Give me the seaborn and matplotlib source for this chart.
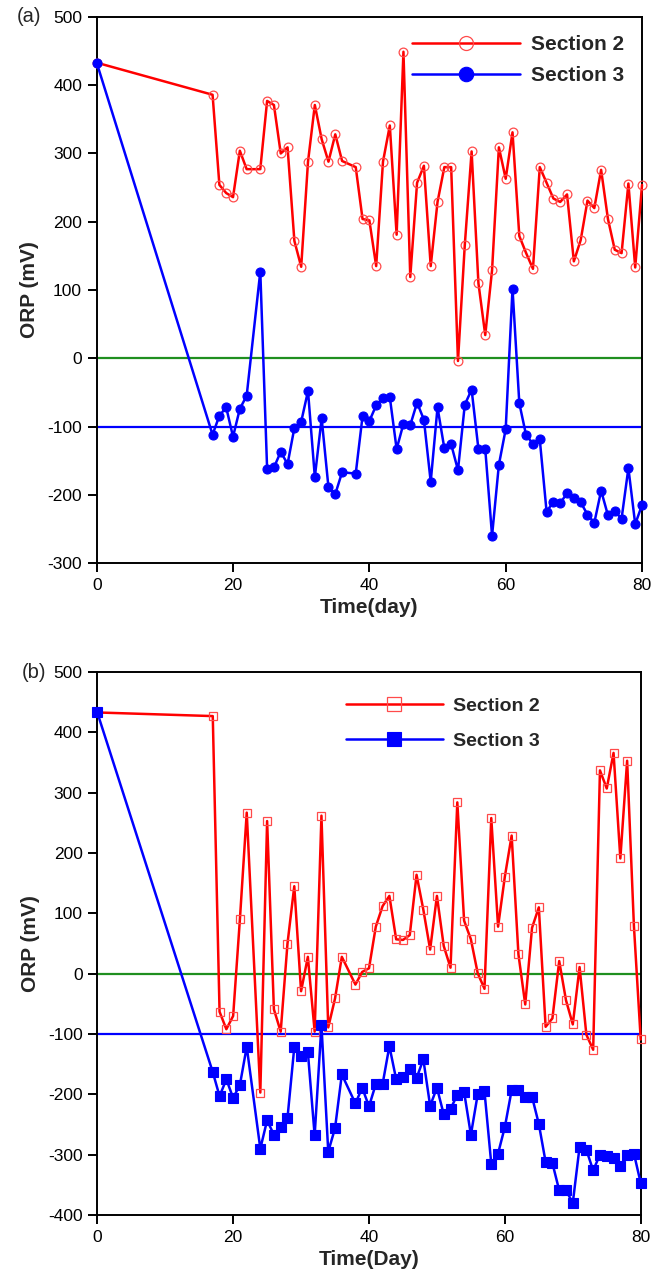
import numpy as np
import pandas as pd
import matplotlib
matplotlib.use("Agg")
import matplotlib.pyplot as plt
import seaborn as sns

# sampling days (day 23 and 37 not measured)
days = [0, 17, 18, 19, 20, 21, 22,
        24, 25, 26, 27, 28, 29, 30, 31, 32, 33, 34, 35, 36,
        38, 39, 40, 41, 42, 43, 44, 45, 46, 47,
        48, 49, 50, 51, 52, 53, 54, 55, 56, 57,
        58, 59, 60, 61, 62, 63, 64, 65, 66, 67,
        68, 69, 70, 71, 72, 73, 74, 75, 76, 77,
        78, 79, 80]

# panel (a)
a_sec2 = [433, 386, 254, 242, 236, 304, 277,
          277, 377, 371, 300, 309, 172, 134, 288, 371, 321, 288, 328, 289,
          280, 204, 202, 135, 288, 341, 181, 449, 119, 257,
          282, 135, 229, 280, 280, -4, 166, 303, 110, 34,
          129, 309, 263, 331, 179, 154, 131, 280, 257, 234,
          229, 240, 142, 173, 231, 220, 276, 204, 159, 154,
          256, 133, 254]
a_sec3 = [433, -112, -84, -72, -115, -74, -55,
          127, -162, -160, -137, -155, -102, -93, -48, -174, -88, -189, -199, -167,
          -169, -85, -92, -69, -58, -57, -133, -96, -98, -65,
          -90, -181, -72, -132, -126, -164, -68, -46, -133, -133,
          -260, -156, -104, 102, -66, -113, -125, -119, -225, -210,
          -212, -198, -205, -211, -229, -241, -194, -230, -224, -235,
          -161, -243, -215]

# panel (b)
b_sec2 = [433, 427, -63, -92, -70, 91, 267,
          -197, 253, -59, -96, 50, 145, -29, 28, -96, 262, -89, -41, 28,
          -18, 3, 9, 78, 112, 129, 57, 56, 64, 164,
          106, 40, 129, 46, 10, 284, 88, 57, 1, -25,
          258, 78, 161, 229, 32, -51, 76, 110, -88, -74,
          21, -44, -84, 11, -101, -126, 337, 307, 366, 191,
          353, 79, -109]
b_sec3 = [433, -163, -203, -175, -206, -184, -121,
          -290, -243, -267, -254, -239, -122, -136, -130, -268, -85, -295, -256, -167,
          -215, -189, -220, -183, -183, -120, -175, -172, -158, -173,
          -142, -219, -189, -233, -224, -201, -196, -267, -200, -195,
          -315, -298, -254, -193, -193, -205, -204, -249, -312, -314,
          -359, -359, -380, -287, -292, -326, -300, -302, -305, -318,
          -301, -298, -347]

ref_lines = [0, -100]
x_ticks = [0, 20, 40, 60, 80]

sns.set_style("ticks")
plt.rcParams['font.family'] = ['Liberation Sans', 'DejaVu Sans']
plt.rcParams['axes.unicode_minus'] = False

RED = "#ff0000"
BLUE = "#0000ff"
GREEN = "#1f8f1f"

fig = plt.figure(figsize=(6.56, 12.84), dpi=100)
ax_a = fig.add_axes([0.1474, 0.5615, 0.8313, 0.4253])
ax_b = fig.add_axes([0.1483, 0.0537, 0.8284, 0.4229])


def draw_panel(ax, s2, s3, mark, ylim, yticks, xlabel, tag, leg_pos, leg_fs, hl, lsp):
    ax.axhline(ref_lines[0], color=GREEN, lw=1.6, zorder=1)
    ax.axhline(ref_lines[1], color=BLUE, lw=1.6, zorder=1)
    df = pd.DataFrame({"day": days, "s2": s2, "s3": s3})
    sns.lineplot(data=df, x="day", y="s2", ax=ax, color=RED, lw=1.8,
                 marker=mark, markersize=6.3, markerfacecolor="none",
                 markeredgecolor="#ff4a4a", markeredgewidth=0.9,
                 label="Section 2", clip_on=False, zorder=3)
    sns.lineplot(data=df, x="day", y="s3", ax=ax, color=BLUE, lw=1.8,
                 marker=mark, markersize=6.5, markerfacecolor=BLUE,
                 markeredgecolor=BLUE, markeredgewidth=0.8,
                 label="Section 3", clip_on=False, zorder=4)
    ax.set_xlim(0, 80)
    ax.set_ylim(*ylim)
    ax.set_xticks(x_ticks)
    ax.set_yticks(yticks)
    ax.tick_params(axis="both", direction="out", length=6.5, width=1.4,
                   labelsize=12.5, colors="black", pad=4)
    for sp in ax.spines.values():
        sp.set_visible(True)
        sp.set_linewidth(1.4)
        sp.set_color("black")
    ax.set_xlabel(xlabel, fontsize=15, fontweight="bold", labelpad=4)
    ax.set_ylabel("ORP (mV)", fontsize=15, fontweight="bold", labelpad=6)
    ax.text(tag[1], 1.0, tag[0], transform=ax.transAxes, ha="left",
            va="center", fontsize=14.5)
    h, l = ax.get_legend_handles_labels()
    ax.legend(h, l, loc="upper left", bbox_to_anchor=leg_pos, frameon=False,
              borderpad=0, borderaxespad=0, handlelength=hl,
              handletextpad=0.5, labelspacing=lsp, markerscale=1.6,
              prop={"size": leg_fs, "weight": "bold"})


draw_panel(ax_a, a_sec2, a_sec3, "o", (-300, 500), list(range(-300, 501, 100)),
           "Time(day)", ("(a)", -0.146), (0.578, 0.967), 15, 5.2, 0.6)
draw_panel(ax_b, b_sec2, b_sec3, "s", (-400, 500), list(range(-400, 501, 100)),
           "Time(Day)", ("(b)", -0.139), (0.457, 0.954), 14, 5.0, 0.9)

fig.savefig("out.png", dpi=100)
